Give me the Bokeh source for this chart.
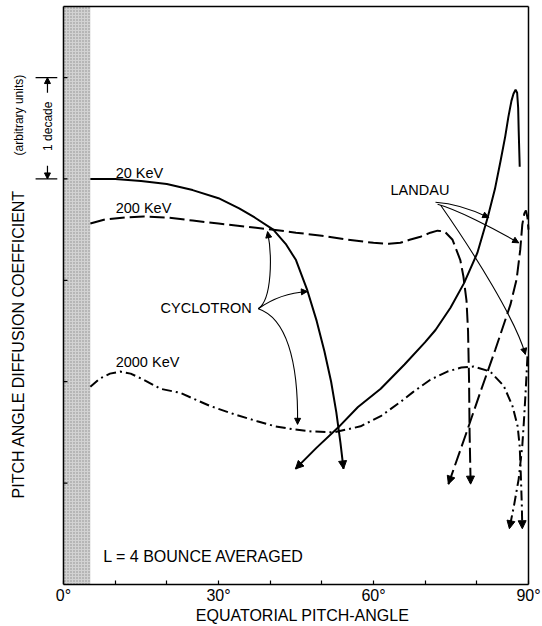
import numpy as np
from bokeh.plotting import figure
from bokeh.models import Range1d, FixedTicker, Label, Arrow, NormalHead
from bokeh.embed import file_html
from bokeh.resources import INLINE

FONT = "Liberation Sans"

# Equatorial pitch angle (degrees) and log10 of the bounce-averaged
# pitch-angle diffusion coefficient (decades, arbitrary zero).
cyc20_angle = [5.2, 10, 15, 20, 25, 30, 34, 37, 40.6, 43, 45, 47.2, 49, 50.5, 51.8, 52.8, 53.6, 54.2]
cyc20_logd = [4.00, 4.00, 3.98, 3.95, 3.89, 3.81, 3.71, 3.62, 3.50, 3.36, 3.20, 2.90, 2.60, 2.30, 2.00, 1.70, 1.40, 1.14]

cyc200_angle = [5.2, 8, 12, 15.5, 20, 25, 30, 35, 40.6, 45, 50, 55, 60, 63, 65.2, 67, 69.1, 71, 72.4,
                73.8, 75.3, 76.8, 77.4, 78.0, 78.3, 78.5, 78.6, 78.8]
cyc200_logd = [3.56, 3.60, 3.62, 3.63, 3.62, 3.59, 3.56, 3.53, 3.50, 3.47, 3.44, 3.40, 3.37, 3.36, 3.37, 3.40,
               3.43, 3.47, 3.49, 3.48, 3.40, 3.20, 3.04, 2.80, 2.50, 2.00, 1.50, 0.99]

cyc2000_angle = [5.2, 7, 9, 11, 13, 15.5, 18.8, 22.6, 28.4, 33, 37.5, 41, 44.5, 48, 52.3, 57.5, 61.4, 65.2,
                 67.7, 71, 74.3, 77, 79.4, 82.6, 85.2, 86.9, 87.9, 88.3, 88.5, 88.7, 88.8]
cyc2000_logd = [1.95, 2.03, 2.08, 2.10, 2.08, 2.02, 1.93, 1.89, 1.76, 1.68, 1.61, 1.56, 1.53, 1.51, 1.50, 1.56,
                1.66, 1.80, 1.90, 2.02, 2.10, 2.14, 2.15, 2.10, 1.96, 1.76, 1.56, 1.36, 1.10, 0.80, 0.55]

lan20_angle = [44.9, 49, 53.2, 57, 61.4, 66, 70, 72.0, 74.9, 77.5, 80.1, 82.1, 83.5, 84.6, 85.5, 86.1,
               86.7, 87.1, 87.5, 87.8, 88.0, 88.1, 88.2, 88.3]
lan20_logd = [1.14, 1.35, 1.55, 1.75, 1.93, 2.17, 2.39, 2.51, 2.73, 2.97, 3.27, 3.62, 3.90, 4.18, 4.42, 4.61,
              4.77, 4.84, 4.88, 4.85, 4.70, 4.48, 4.30, 4.12]

lan200_angle = [74.5, 77.8, 80.7, 83.6, 86.5, 87.7, 88.4, 88.8, 89.2, 89.5, 89.8, 90.0]
lan200_logd = [0.99, 1.47, 1.90, 2.32, 2.76, 3.01, 3.30, 3.55, 3.66, 3.69, 3.62, 3.50]

lan2000_angle = [89.8, 89.6, 89.4, 89.1, 88.8, 88.1, 87.2, 86.3]
lan2000_logd = [2.25, 2.05, 1.86, 1.60, 1.37, 1.04, 0.78, 0.55]

loss_cone = 5.2          # edge of the shaded loss cone (deg)
y_top = 5.7              # top of the box, in decades
y_decade_ticks = [1, 2, 3, 4, 5]
x_ticks = [0, 10, 20, 30, 40, 50, 60, 70, 80, 90]
x_labels = {0: "0°", 30: "30°", 60: "60°", 90: "90°"}

# The plotting frame spans the whole width so that the vertical title and the
# decade scale bar (at negative angles) can be drawn left of the 0° edge.
X_LEFT, X_RIGHT = -12.19, 92.71
Y_END = 5.76
TICK_DEG = 0.77          # 4 px inward tick on the left edge


def D(v):
    return [float(10.0 ** t) for t in np.atleast_1d(v)]


p = figure(width=542, height=626, output_backend="svg", toolbar_location=None,
           y_axis_type="log", x_range=Range1d(X_LEFT, X_RIGHT), y_range=Range1d(1.0, float(10 ** Y_END)),
           min_border_left=0, min_border_right=0, min_border_top=0, min_border_bottom=40)
p.background_fill_color = "white"
p.border_fill_color = "white"
p.outline_line_color = None
p.grid.visible = False
p.yaxis.visible = False

# x axis: the bottom edge of the box, inward ticks every 10 degrees, labels every 30
xa = p.xaxis[0]
xa.bounds = (0, 90)
xa.ticker = FixedTicker(ticks=x_ticks)
xa.major_label_overrides = {t: x_labels.get(t, "") for t in x_ticks}
xa.major_tick_in = 4
xa.major_tick_out = 0
xa.minor_tick_line_color = None
xa.axis_line_width = 1.5
xa.major_tick_line_width = 1.2
xa.major_label_text_font = FONT
xa.major_label_text_font_size = "16px"
xa.major_label_text_color = "black"
xa.major_label_standoff = 2
# the frame is wider than the box; non-breaking spaces centre the title under the box
xa.axis_label = "\u00a0" * 14 + "EQUATORIAL PITCH-ANGLE"
xa.axis_label_text_font = FONT
xa.axis_label_text_font_size = "16px"
xa.axis_label_text_font_style = "normal"
xa.axis_label_text_color = "black"
xa.axis_label_standoff = 0

# stippled loss-cone band
p.quad(left=[0.0], right=[loss_cone], bottom=[1.0], top=D(y_top), fill_color="#d2d2d2",
       line_color=None, hatch_pattern="dot", hatch_color="#8c8c8c", hatch_scale=3, hatch_weight=1)

# left, top and right edges of the box, and the decade ticks on the left edge
top = D(y_top)[0]
p.multi_line(xs=[[0, 0], [0, 90], [90, 90]], ys=[[1.0, top], [top, top], [1.0, top]],
             line_color="black", line_width=1.5)
p.segment(x0=[0] * len(y_decade_ticks), x1=[TICK_DEG] * len(y_decade_ticks),
          y0=D(y_decade_ticks), y1=D(y_decade_ticks), line_color="black", line_width=1.2)

LW = 2
DASH = "15 5"
DASHDOT = "10 4 2 4"

p.line(cyc20_angle, D(cyc20_logd), line_color="black", line_width=LW)
p.line(lan20_angle, D(lan20_logd), line_color="black", line_width=LW)
p.line(cyc200_angle, D(cyc200_logd), line_color="black", line_width=LW, line_dash=DASH)
p.line(lan200_angle, D(lan200_logd), line_color="black", line_width=LW, line_dash=DASH)
p.line(cyc2000_angle, D(cyc2000_logd), line_color="black", line_width=LW, line_dash=DASHDOT)
p.line(lan2000_angle, D(lan2000_logd), line_color="black", line_width=LW, line_dash=DASHDOT)


def head(x0, y0, x1, y1, size, body=False):
    p.add_layout(Arrow(x_start=float(x0), y_start=float(10 ** y0), x_end=float(x1), y_end=float(10 ** y1),
                       line_alpha=1.0 if body else 0.0, line_width=1.2,
                       end=NormalHead(size=size, fill_color="black", line_color="black", line_width=1)))


def end_head(xs, ys):
    """Arrowhead on the last segment of a curve that runs off downward."""
    head(xs[-2], ys[-2], xs[-1], ys[-1], 8)


end_head(cyc20_angle, cyc20_logd)
end_head(lan20_angle[1::-1], lan20_logd[1::-1])
end_head(cyc200_angle, cyc200_logd)
end_head(lan200_angle[1::-1], lan200_logd[1::-1])
end_head(cyc2000_angle, cyc2000_logd)
end_head(lan2000_angle, lan2000_logd)


def text(x, y, s, size="15px", align="left", angle=0.0):
    p.add_layout(Label(x=float(x), y=float(10 ** y), text=s, text_font=FONT, text_font_size=size,
                       text_color="black", text_align=align, text_baseline="middle", angle=float(angle)))


text(10.1, 4.06, "20 KeV", "14.5px")
text(10.1, 3.71, "200 KeV", "14.5px")
text(10.1, 2.19, "2000 KeV", "14.5px")
text(18.8, 2.73, "CYCLOTRON", "14.5px")
text(63.3, 3.89, "LANDAU", "14.5px")
text(7.7, 0.28, "L = 4  BOUNCE AVERAGED", "16px")

# vertical axis title
text(-8.71, 2.37, "PITCH ANGLE DIFFUSION COEFFICIENT", "16px", "center", np.pi / 2)
text(-8.52, 4.63, "(arbitrary units)", "12px", "center", np.pi / 2)

# one-decade scale bar
text(-2.9, 4.52, "1 decade", "12px", "center", np.pi / 2)
p.segment(x0=[-5.4, -5.4], x1=[-1.2, -1.2], y0=D([4.0, 5.0]), y1=D([4.0, 5.0]),
          line_color="black", line_width=1.2)
head(-3.1, 4.85, -3.1, 5.0, 6, body=True)
head(-3.1, 4.13, -3.1, 4.0, 6, body=True)


def pointer(x0, y0, c0x, c0y, c1x, c1y, x1, y1):
    """Thin curved leader from a label to a curve, ending in a small arrowhead."""
    p.bezier(x0=[x0], y0=D(y0), cx0=[c0x], cy0=D(c0y), cx1=[c1x], cy1=D(c1y),
             x1=[x1], y1=D(y1), line_color="black", line_width=1.1)
    head(c1x, c1y, x1, y1, 6)


# CYCLOTRON leaders
pointer(37.7, 2.72, 40.4, 2.81, 40.4, 3.25, 39.5, 3.48)
pointer(37.7, 2.72, 41.0, 2.84, 44.0, 2.88, 47.2, 2.89)
pointer(37.7, 2.72, 43.0, 2.63, 45.5, 2.22, 45.3, 1.58)
# LANDAU leaders
pointer(72.0, 3.77, 75.0, 3.76, 79.0, 3.70, 82.3, 3.62)
pointer(72.4, 3.75, 76.0, 3.70, 83.0, 3.52, 88.1, 3.37)
pointer(73.0, 3.74, 79.7, 3.25, 87.5, 2.61, 89.4, 2.27)

open("out.html", "w").write(file_html(p, INLINE))
